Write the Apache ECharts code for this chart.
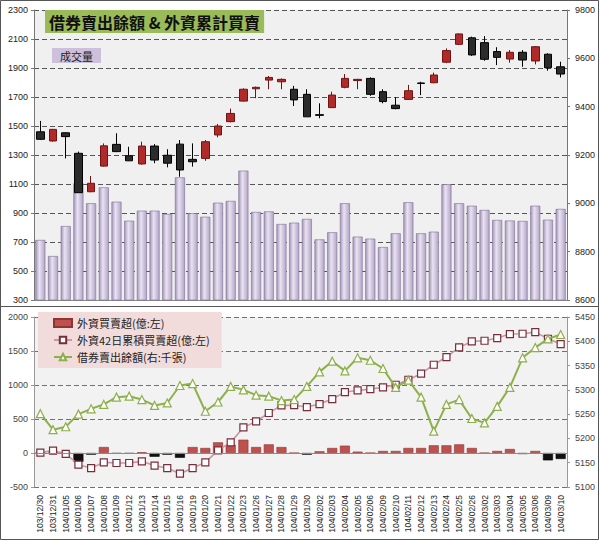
<!DOCTYPE html>
<html><head><meta charset="utf-8">
<script src="https://cdn.jsdelivr.net/npm/echarts@6/dist/echarts.min.js"></script>
<style>html,body{margin:0;padding:0;background:#fff}#c{width:600px;height:541px}</style>
</head><body><div id="c"></div>
<script>
const dates=['103/12/30','103/12/31','104/01/05','104/01/06','104/01/07','104/01/08','104/01/09','104/01/12','104/01/13','104/01/14','104/01/15','104/01/16','104/01/19','104/01/20','104/01/21','104/01/22','104/01/23','104/01/26','104/01/27','104/01/28','104/01/29','104/01/30','104/02/02','104/02/03','104/02/04','104/02/05','104/02/06','104/02/09','104/02/10','104/02/11','104/02/12','104/02/13','104/02/24','104/02/25','104/02/26','104/03/02','104/03/03','104/03/04','104/03/05','104/03/06','104/03/09','104/03/10'];
// 成交量 (left axis, top chart)
const volume=[714,603,810,1105,967,1077,978,847,916,916,893,1146,898,874,971,983,1192,907,911,824,833,859,718,767,967,737,723,665,760,974,760,771,1098,967,950,921,852,848,845,950,854,928];
// 指數 K線 (right axis, top chart)
const kOpen =[9296,9258,9292,9207,9048,9154,9244,9197,9163,9237,9199,9245,9182,9186,9283,9338,9423,9474,9510,9503,9472,9451,9367,9396,9480,9508,9517,9462,9406,9430,9498,9499,9584,9658,9685,9665,9628,9597,9625,9589,9617,9565];
const kClose=[9265,9306,9276,9044,9083,9238,9214,9176,9237,9179,9166,9138,9172,9255,9320,9372,9472,9480,9521,9513,9428,9358,9364,9448,9517,9513,9451,9421,9392,9466,9496,9531,9632,9701,9614,9596,9604,9625,9593,9648,9561,9535];
const kLow  =[9262,9255,9186,9044,9046,9152,9212,9175,9160,9166,9149,9110,9152,9176,9273,9335,9421,9435,9472,9472,9403,9358,9352,9396,9476,9472,9445,9414,9389,9428,9448,9497,9580,9655,9610,9590,9572,9582,9565,9575,9549,9521];
const kHigh =[9341,9308,9294,9214,9113,9248,9290,9234,9255,9245,9224,9262,9248,9262,9328,9392,9476,9483,9527,9517,9486,9472,9414,9462,9535,9515,9521,9472,9439,9490,9503,9541,9641,9703,9690,9692,9646,9634,9634,9651,9621,9586];
// 外資買賣超(億:左)
const netBuy=[5,5,-5,-130,-25,88,-10,-10,10,-55,-25,-70,88,74,157,123,196,88,127,88,0,-25,25,74,108,20,0,30,30,74,74,113,113,127,74,0,30,59,-15,30,-108,-88];
// 外資42日累積買賣超(億:左)
const cum42=[5,35,-12,-172,-221,-138,-147,-147,-123,-187,-221,-304,-221,-138,38,156,376,465,588,700,703,676,720,793,896,920,940,965,1004,1077,1166,1298,1411,1553,1641,1651,1690,1749,1754,1778,1680,1602];
// 借券賣出餘額(右:千張)
const shortBal=[5251,5218,5224,5250,5261,5270,5285,5287,5280,5268,5273,5309,5313,5256,5275,5307,5300,5289,5287,5278,5280,5307,5337,5359,5339,5366,5361,5344,5305,5320,5285,5215,5270,5280,5241,5232,5266,5305,5366,5387,5405,5414];

const F='Liberation Sans';
const CJK='"Noto Sans CJK TC"';
const plain=v=>String(v);
const lab={fontSize:9,color:'#222',fontFamily:F,formatter:plain};
const chart=echarts.init(document.getElementById('c'),null,{renderer:'svg'});
const kData=kOpen.map((o,i)=>[o,kClose[i],kLow[i],kHigh[i]]);
const netData=netBuy.map(v=>({value:v,itemStyle:{color:v<0?'#111':'#c0504d',borderColor:v<0?'#000':'#8c3533'}}));
chart.setOption({
  backgroundColor:'#fff',
  animation:false,
  title:[
    {text:'借券賣出餘額 & 外資累計買賣',left:45,top:10,backgroundColor:'#9bbb59',padding:[3,4,2,4],
     textStyle:{fontSize:16,fontWeight:'bold',color:'#111',fontFamily:CJK,lineHeight:18}},
    {text:'成交量',left:52,top:48,backgroundColor:'#ccc0da',padding:[2,8,1,8],
     textStyle:{fontSize:11,fontWeight:'normal',color:'#222',fontFamily:CJK,lineHeight:12}}
  ],
  legend:{left:38,top:312,orient:'vertical',backgroundColor:'#f2dcdb',padding:[5,12,5,15],itemGap:5,
    itemWidth:18,itemHeight:8,textStyle:{fontSize:11,lineHeight:12,color:'#222',fontFamily:CJK},
    data:[{name:'外資買賣超(億:左)',icon:'rect'},{name:'外資42日累積買賣超(億:左)'},{name:'借券賣出餘額(右:千張)'}]},
  graphic:[
    {type:'rect',shape:{x:0.5,y:0.5,width:598,height:539},style:{fill:'none',stroke:'#555',lineWidth:1},z:100},
    {type:'line',shape:{x1:0,y1:306.5,x2:599,y2:306.5},style:{stroke:'#555',lineWidth:1},z:100}
  ],
  grid:[
    {left:34,right:33,top:10,height:290,show:true,backgroundColor:'#f0f0f0',borderWidth:0},
    {left:34,right:33,top:317,height:170,show:true,backgroundColor:'#f2f2f2',borderWidth:0}
  ],
  xAxis:[
    {type:'category',gridIndex:0,data:dates,axisLabel:{show:false},axisTick:{show:false},axisLine:{lineStyle:{color:'#888'}}},
    {type:'category',gridIndex:1,data:dates,axisLine:{show:false,onZero:false},axisTick:{show:false},
     axisLabel:{interval:0,rotate:90,fontSize:8.5,color:'#222',fontFamily:F,margin:8}}
  ],
  yAxis:[
    {type:'value',gridIndex:0,min:300,max:2300,interval:200,position:'left',
     axisLine:{show:true,lineStyle:{color:'#777'}},axisTick:{show:true,length:3},axisLabel:Object.assign({margin:6},lab),
     splitLine:{lineStyle:{type:[5,3],color:'#555'}}},
    {type:'value',gridIndex:0,min:8600,max:9800,interval:200,position:'right',
     axisLine:{show:true,lineStyle:{color:'#777'}},axisTick:{show:true,length:3},axisLabel:Object.assign({margin:8},lab),
     splitLine:{show:false}},
    {type:'value',gridIndex:1,min:-500,max:2000,interval:500,position:'left',
     axisLine:{show:true,lineStyle:{color:'#999'}},axisTick:{show:true,length:3},axisLabel:Object.assign({margin:6},lab,{color:'#444'}),
     splitLine:{lineStyle:{type:[5,3],color:'#4f7a99'}}},
    {type:'value',gridIndex:1,min:5100,max:5450,interval:50,position:'right',
     axisLine:{show:true,lineStyle:{color:'#999'}},axisTick:{show:true,length:3},axisLabel:Object.assign({margin:8},lab,{color:'#444'}),
     splitLine:{show:false}}
  ],
  series:[
    {name:'成交量',type:'bar',xAxisIndex:0,yAxisIndex:0,data:volume,barWidth:10,z:2,
     itemStyle:{borderColor:'#7d6f94',borderWidth:0.6,
       color:{type:'linear',x:0,y:0,x2:1,y2:0,colorStops:[{offset:0,color:'#a496bb'},{offset:0.4,color:'#e9e3f1'},{offset:1,color:'#b2a4c8'}]}}},
    {name:'指數',type:'candlestick',xAxisIndex:0,yAxisIndex:1,data:kData,barWidth:8,z:3,
     itemStyle:{color:'#b02a2a',color0:'#2b2b2b',borderColor:'#6e1414',borderColor0:'#000',borderWidth:1}},
    {name:'外資買賣超(億:左)',type:'bar',xAxisIndex:1,yAxisIndex:2,data:netData,barWidth:10,z:2,
     itemStyle:{color:'#c0504d',borderColor:'#8c3533',borderWidth:0.6},
     markLine:{silent:true,symbol:'none',label:{show:false},lineStyle:{type:'solid',color:'#8a8a8a',width:1},data:[{yAxis:0}]}},
    {name:'外資42日累積買賣超(億:左)',type:'line',xAxisIndex:1,yAxisIndex:2,data:cum42,z:4,
     symbol:'rect',symbolSize:7,showAllSymbol:true,
     lineStyle:{color:'#c49aa8',width:1.6},itemStyle:{color:'#fff',borderColor:'#7b2c3a',borderWidth:1.2}},
    {name:'借券賣出餘額(右:千張)',type:'line',xAxisIndex:1,yAxisIndex:3,data:shortBal,z:5,
     symbol:'triangle',symbolSize:8,showAllSymbol:true,
     lineStyle:{color:'#8db04a',width:2},itemStyle:{color:'#fff',borderColor:'#8db04a',borderWidth:1.2}}
  ]
});
</script></body></html>
